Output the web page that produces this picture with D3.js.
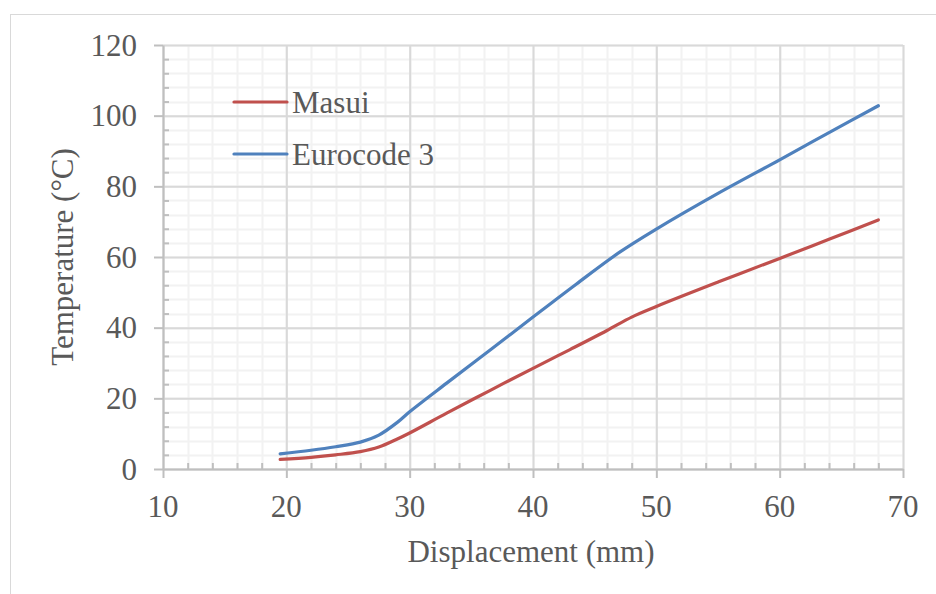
<!DOCTYPE html>
<html>
<head>
<meta charset="utf-8">
<script src="https://cdn.jsdelivr.net/npm/d3@7"></script>
<style>
  html, body { margin: 0; padding: 0; background: #fff; }
  svg { display: block; }
  text { font-family: "Liberation Serif", "Times New Roman", serif; fill: #595959; }
</style>
</head>
<body>
<svg id="chart" width="936" height="594"></svg>
<script>
// ---- data ----
const seriesNames = ["Masui", "Eurocode 3"];
const masuiX = [19.5, 22, 24, 26, 27.5, 29, 30, 33, 36.5, 40, 43, 46, 48, 50, 55, 60, 64, 68];
const masuiY = [2.7, 3.3, 4.0, 4.9, 6.2, 8.5, 10.2, 15.8, 22.2, 28.5, 33.8, 39.2, 43, 46, 52.9, 59.6, 65, 70.5];
const euroX = [19.5, 22, 24, 26, 27.5, 29, 30, 33, 36.5, 40, 43.5, 47, 50, 55, 60, 64, 68];
const euroY = [4.3, 5.3, 6.3, 7.6, 9.6, 13.2, 16.2, 24.3, 33.6, 43, 52.3, 61.3, 67.9, 78, 87.5, 95.2, 102.8];
const xTicks = [10, 20, 30, 40, 50, 60, 70];
const yTicks = [0, 20, 40, 60, 80, 100, 120];
const xTitle = "Displacement (mm)";
const yTitle = "Temperature (\u00B0C)";
const colors = ["#C0504D", "#4F81BD"];

// ---- layout ----
const svg = d3.select("#chart");
const L = 163, R = 903, T = 45, B = 469;
const x = d3.scaleLinear().domain([10, 70]).range([L, R]);
const y = d3.scaleLinear().domain([0, 120]).range([B, T]);
const fs = 31;

// outer chart border
svg.append("rect").attr("x", 10.5).attr("y", 14.5).attr("width", 1000).attr("height", 700)
  .attr("fill", "none").attr("stroke", "#D9D9D9").attr("stroke-width", 1);

// minor grid
const xMinor = d3.range(10, 70.01, 2);
const yMinor = d3.range(0, 120.01, 4);
const gMinor = svg.append("g");
gMinor.selectAll("line.vx").data(xMinor).join("line")
  .attr("x1", d => Math.round(x(d)) + 0.5).attr("x2", d => Math.round(x(d)) + 0.5)
  .attr("y1", T).attr("y2", B).attr("stroke", "#F2F2F2").attr("stroke-width", 2);
gMinor.selectAll("line.hy").data(yMinor).join("line")
  .attr("y1", d => Math.round(y(d)) + 0.5).attr("y2", d => Math.round(y(d)) + 0.5)
  .attr("x1", L).attr("x2", R).attr("stroke", "#F2F2F2").attr("stroke-width", 2);

// major grid via axes
const gx = svg.append("g").attr("transform", `translate(0,${B})`)
  .call(d3.axisBottom(x).tickValues(xTicks).tickSize(-(B - T)).tickFormat(""));
gx.select(".domain").remove();
gx.selectAll("line").attr("stroke", "#D9D9D9").attr("stroke-width", 2);
const gy = svg.append("g").attr("transform", `translate(${L},0)`)
  .call(d3.axisLeft(y).tickValues(yTicks).tickSize(-(R - L)).tickFormat(""));
gy.select(".domain").remove();
gy.selectAll("line").attr("stroke", "#D9D9D9").attr("stroke-width", 2);

// axis lines + ticks
const axisColor = "#BFBFBF";
const ax = svg.append("g").attr("transform", `translate(0,${B})`);
ax.call(d3.axisBottom(x).tickValues(xTicks).tickSize(9).tickSizeOuter(0).tickFormat(""));
ax.append("g").call(d3.axisBottom(x).tickValues(xMinor.filter(v => v % 10 !== 0)).tickSize(-6).tickSizeOuter(0).tickFormat(""))
  .select(".domain").remove();
ax.selectAll("line,path").attr("stroke", axisColor).attr("stroke-width", 2);

const ay = svg.append("g").attr("transform", `translate(${L},0)`);
ay.call(d3.axisLeft(y).tickValues(yTicks).tickSize(9).tickSizeOuter(0).tickFormat(""));
ay.append("g").call(d3.axisLeft(y).tickValues(yMinor.filter(v => v % 20 !== 0)).tickSize(-6).tickSizeOuter(0).tickFormat(""))
  .select(".domain").remove();
ay.selectAll("line,path").attr("stroke", axisColor).attr("stroke-width", 2);

// tick labels
svg.append("g").selectAll("text").data(xTicks).join("text")
  .attr("x", d => x(d)).attr("y", 517).attr("text-anchor", "middle")
  .attr("font-size", fs).text(d => d);
svg.append("g").selectAll("text").data(yTicks).join("text")
  .attr("x", 137).attr("y", d => y(d) + 10.5).attr("text-anchor", "end")
  .attr("font-size", fs).text(d => d);

// axis titles
svg.append("text").attr("x", (L + R) / 2 - 2).attr("y", 562).attr("text-anchor", "middle")
  .attr("font-size", fs).text(xTitle);
svg.append("text").attr("transform", `translate(73,${(T + B) / 2}) rotate(-90)`)
  .attr("text-anchor", "middle").attr("font-size", fs).text(yTitle);

// lines
const series = [
  masuiX.map((v, i) => [v, masuiY[i]]),
  euroX.map((v, i) => [v, euroY[i]])
];
const line = d3.line().x(d => x(d[0])).y(d => y(d[1])).curve(d3.curveCatmullRom.alpha(0.5));
svg.append("g").selectAll("path").data(series).join("path")
  .attr("d", line).attr("fill", "none")
  .attr("stroke", (d, i) => colors[i]).attr("stroke-width", 3.2)
  .attr("stroke-linecap", "round").attr("stroke-linejoin", "round");

// legend
const legY = [102, 154];
const lg = svg.append("g");
seriesNames.forEach((name, i) => {
  lg.append("line").attr("x1", 234).attr("x2", 287).attr("y1", legY[i]).attr("y2", legY[i])
    .attr("stroke", colors[i]).attr("stroke-width", 3.2).attr("stroke-linecap", "round");
  lg.append("text").attr("x", 292).attr("y", legY[i] + 10.5).attr("font-size", fs).text(name);
});
</script>
</body>
</html>
